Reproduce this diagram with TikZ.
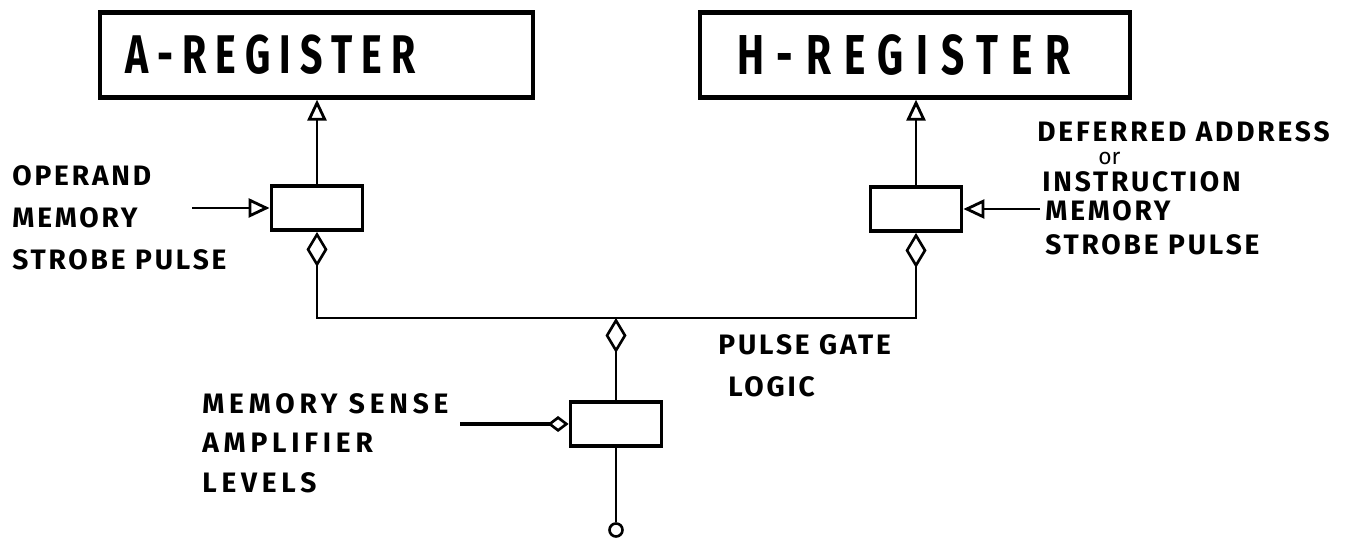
\documentclass[tikz,border=0pt]{standalone}
\usepackage{fontspec}
\setmainfont{Fira Sans}
\newfontfamily\aregfont[FakeStretch=0.72,LetterSpace=17]{Fira Sans}
\newfontfamily\hregfont[FakeStretch=0.72,LetterSpace=23]{Fira Sans}
\newfontfamily\lblfont[LetterSpace=10]{Fira Sans}
\newfontfamily\widelblfont[LetterSpace=17]{Fira Sans}
\usetikzlibrary{arrows.meta}
\tikzset{
  diamtip/.tip={Diamond[open, length=0.7cm, width=0.42cm, line width=1.5pt]},
  smalldiam/.tip={Diamond[open, length=0.42cm, width=0.32cm, line width=1.5pt]},
  tritip/.tip={Triangle[open, length=0.42cm, width=0.38cm, line width=1.6pt]}
}
\begin{document}
\begin{tikzpicture}[x=0.02cm,y=-0.02cm,
  reg/.style={draw, line width=2.4pt, minimum height=1.7cm, inner ysep=0pt, align=left},
  gatebox/.style={draw, line width=2.2pt, minimum width=1.82cm, minimum height=0.88cm, inner sep=0pt},
  wire/.style={line width=1.5pt},
  tri/.style={-tritip},
  lbl/.style={font=\lblfont\bfseries\fontsize{16}{23.8}\selectfont, align=left, inner sep=0pt}
]
\useasboundingbox (0,0) rectangle (1347,546);
% registers
\node[reg, text width=7.66cm, inner xsep=0.5cm, font=\aregfont\bfseries\fontsize{31}{36}\selectfont] (areg) at (316.5,55) {A-REGISTER};
\node[reg, text width=7.12cm, inner xsep=0.74cm, font=\hregfont\bfseries\fontsize{32}{36}\selectfont] (hreg) at (915,55) {H-REGISTER};
% gate boxes
\node[gatebox] (abox) at (317,208) {};
\node[gatebox] (hbox) at (916,209) {};
\node[gatebox] (cbox) at (616,424) {};
\node[draw, circle, wire, minimum size=0.26cm, inner sep=0pt] (out) at (616,530) {};
% connectors
\draw[wire,tri] (abox.north) -- (abox.north |- areg.south);
\draw[wire,tri] (hbox.north) -- (hbox.north |- hreg.south);
\coordinate (ain) at (192,208);
\draw[wire,tri] (ain) -- (abox.west);
\coordinate (hin) at (1040,209);
\draw[wire,tri] (hin) -- (hbox.east);
\coordinate (busmid) at (616,318);
\draw[wire, diamtip-diamtip] (abox.south) |- (busmid) -| (hbox.south);
\draw[wire, -diamtip] (cbox.north) -- (busmid);
\coordinate (cin) at (460,424);
\draw[line width=2.2pt, -smalldiam] (cin) -- (cbox.west);
\draw[wire] (cbox.south) -- (out.north);
% labels
\node[lbl, anchor=west] (opl) at (12,218) {OPERAND\\MEMORY\\STROBE PULSE};
\node[lbl, anchor=west, font=\widelblfont\bfseries\fontsize{16}{22.4}\selectfont] (msl) at (202,443) {MEMORY SENSE\\AMPLIFIER\\LEVELS};
\node[lbl, anchor=west] (pgl) at (718,366) {PULSE GATE\\\hspace*{0.2cm}LOGIC};
\node[lbl, anchor=west] (r1) at (1037,132) {DEFERRED ADDRESS};
\node[anchor=west, inner sep=0pt, font=\fontsize{13}{15}\selectfont] (r2) at (1098,158) {or};
\node[lbl, anchor=west] (r3) at (1042,182) {INSTRUCTION};
\node[lbl, anchor=west] (r4) at (1045,211) {MEMORY};
\node[lbl, anchor=west] (r5) at (1045,245) {STROBE PULSE};
\end{tikzpicture}
\end{document}
